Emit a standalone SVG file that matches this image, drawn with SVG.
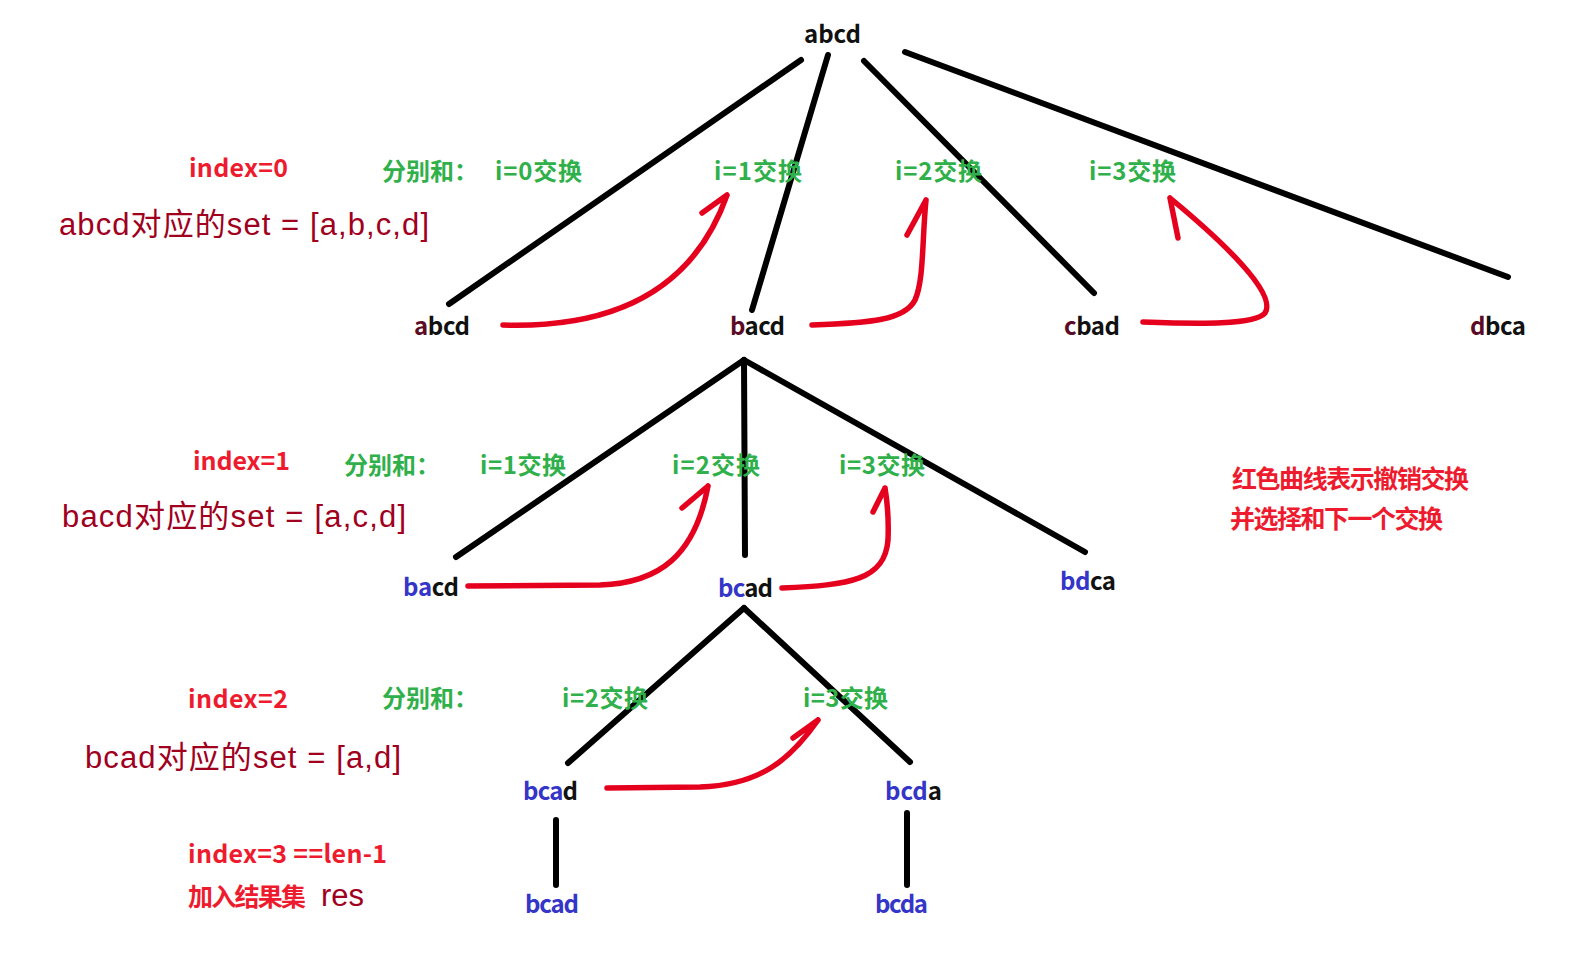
<svg xmlns="http://www.w3.org/2000/svg" width="1582" height="970" viewBox="0 0 1582 970">
<style>
.edge{stroke:#000;stroke-width:6;stroke-linecap:round;fill:none}
.undo{stroke:#e5001e;stroke-width:5.5;stroke-linecap:round;stroke-linejoin:round;fill:none}
.node{font-family:"Noto Sans CJK SC","Open Sans",sans-serif;font-weight:bold;font-size:24px;fill:#111}
.fix{fill:#5b0b25}
.blue{fill:#3535c8}
.green{font-family:"Noto Sans CJK SC",sans-serif;font-weight:bold;font-size:24px;fill:#2fb04a}
.red{font-family:"Noto Sans CJK SC",sans-serif;font-weight:bold;font-size:25px;fill:#ee1b2e}
.set{font-family:"Liberation Sans","Noto Sans CJK SC",sans-serif;font-size:31px;fill:#a0001e}
</style>
<rect width="1582" height="970" fill="#fff"/>
<g id="connectors">
<line class="edge" x1="801" y1="60" x2="449" y2="304"/>
<line class="edge" x1="828" y1="55" x2="752" y2="310"/>
<line class="edge" x1="864" y1="61" x2="1094" y2="293"/>
<line class="edge" x1="905" y1="52" x2="1508" y2="277"/>
<line class="edge" x1="744" y1="360" x2="456" y2="557"/>
<line class="edge" x1="744" y1="360" x2="745" y2="555"/>
<line class="edge" x1="744" y1="360" x2="1085" y2="552"/>
<line class="edge" x1="744" y1="608" x2="568" y2="763"/>
<line class="edge" x1="744" y1="608" x2="910" y2="762"/>
<line class="edge" x1="556" y1="820" x2="556" y2="885"/>
<line class="edge" x1="907" y1="813" x2="907" y2="885"/>
</g>
<g id="undo-arrows">
<path class="undo" d="M503,325 C600,328 690,300 727,195 M727,195 L702,213"/>
<path class="undo" d="M812,325 C870,323 905,320 915,300 C924,280 922,240 926,200 M926,200 L907,235"/>
<path class="undo" d="M1143,322 C1200,324 1255,325 1265,313 C1275,298 1245,260 1170,198 M1170,198 L1178,238"/>
<path class="undo" d="M468,586 L600,585 C660,583 695,555 708,486 M708,486 L682,508"/>
<path class="undo" d="M782,588 C850,585 885,580 888,540 C889,515 887,500 885,488 M885,488 L873,512"/>
<path class="undo" d="M607,788 L700,787 C760,785 790,760 818,720 M818,720 L793,738"/>
</g>
<g id="n-root"><text class="node" x="804" y="43" textLength="57">abcd</text></g>
<g id="n1-abcd"><text class="node" x="414" y="335" textLength="56"><tspan class="fix">a</tspan>bcd</text></g>
<g id="n1-bacd"><text class="node" x="730" y="335" textLength="55"><tspan class="fix">b</tspan>acd</text></g>
<g id="n1-cbad"><text class="node" x="1064" y="335" textLength="56"><tspan class="fix">c</tspan>bad</text></g>
<g id="n1-dbca"><text class="node" x="1470" y="335" textLength="56"><tspan class="fix">d</tspan>bca</text></g>
<g id="n2-bacd"><text class="node" x="403" y="596" textLength="56"><tspan class="blue">ba</tspan>cd</text></g>
<g id="n2-bcad"><text class="node" x="718" y="597" textLength="55"><tspan class="blue">bc</tspan>ad</text></g>
<g id="n2-bdca"><text class="node" x="1060" y="590" textLength="56"><tspan class="blue">bd</tspan>ca</text></g>
<g id="n3-bcad"><text class="node" x="523" y="800" textLength="55"><tspan class="blue">bca</tspan>d</text></g>
<g id="n3-bcda"><text class="node" x="885" y="800" textLength="57"><tspan class="blue">bcd</tspan>a</text></g>
<g id="n4-bcad"><text class="node blue" x="525" y="913" textLength="54">bcad</text></g>
<g id="n4-bcda"><text class="node blue" x="875" y="913" textLength="53">bcda</text></g>
<g id="labels">
<text class="red" x="189" y="177" textLength="99">index=0</text>
<text class="red" x="193" y="470" textLength="97">index=1</text>
<text class="red" x="188" y="708" textLength="100">index=2</text>
<text class="red" x="188" y="863" textLength="199">index=3 ==len-1</text>
<text class="red" x="188" y="906" textLength="118">加入结果集</text>
<text class="set" x="321" y="906" textLength="43">res</text>
<text class="set" x="59" y="235" textLength="370">abcd对应的set = [a,b,c,d]</text>
<text class="set" x="62" y="527" textLength="344">bacd对应的set = [a,c,d]</text>
<text class="set" x="85" y="768" textLength="316">bcad对应的set = [a,d]</text>
<text class="green" x="382" y="180">分别和：</text>
<text class="green" x="495" y="180" textLength="87">i=0交换</text>
<text class="green" x="714" y="180" textLength="88">i=1交换</text>
<text class="green" x="895" y="180" textLength="87">i=2交换</text>
<text class="green" x="1089" y="180" textLength="87">i=3交换</text>
<text class="green" x="344" y="474">分别和：</text>
<text class="green" x="480" y="474" textLength="86">i=1交换</text>
<text class="green" x="672" y="474" textLength="88">i=2交换</text>
<text class="green" x="839" y="474" textLength="86">i=3交换</text>
<text class="green" x="382" y="707">分别和：</text>
<text class="green" x="562" y="707" textLength="86">i=2交换</text>
<text class="green" x="803" y="707" textLength="85">i=3交换</text>
<text class="red" x="1232" y="488" textLength="237">红色曲线表示撤销交换</text>
<text class="red" x="1230" y="528" textLength="213">并选择和下一个交换</text>
</g>
</svg>
